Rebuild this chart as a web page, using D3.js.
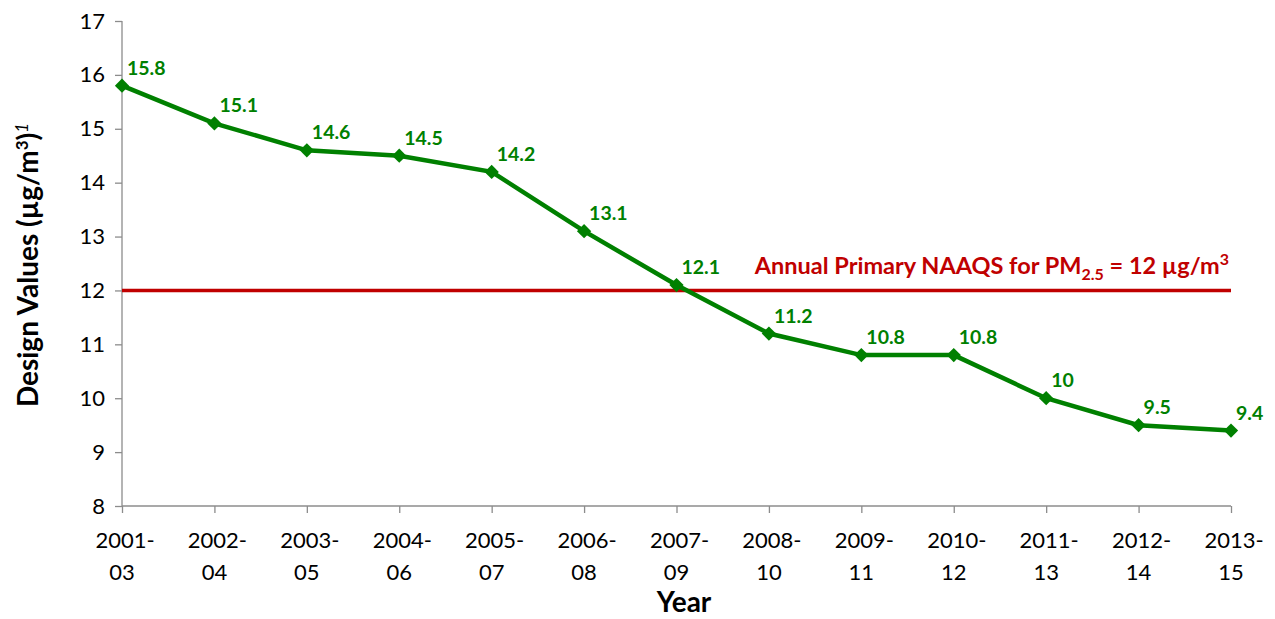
<!DOCTYPE html>
<html>
<head>
<meta charset="utf-8">
<script src="https://cdn.jsdelivr.net/npm/d3@7"></script>
<style>
    body { margin: 0; background: #fff; }
    text { font-family: Lato, "Open Sans", sans-serif; }
</style>
</head>
<body>
<script>
// categories (3-year periods) and design values
var periods = ["2001-03", "2002-04", "2003-05", "2004-06", "2005-07", "2006-08", "2007-09",
    "2008-10", "2009-11", "2010-12", "2011-13", "2012-14", "2013-15"];
var designValues = [15.8, 15.1, 14.6, 14.5, 14.2, 13.1, 12.1, 11.2, 10.8, 10.8, 10, 9.5, 9.4];
var yTicks = [8, 9, 10, 11, 12, 13, 14, 15, 16, 17];
var standard = 12;

var w = 1275, h = 619;
var margin = {left: 122, right: 44, top: 21, bottom: 113};

var svg = d3.select("body").append("svg")
    .attr("width", w)
    .attr("height", h);

var x = d3.scalePoint()
    .domain(periods)
    .range([margin.left, w - margin.right]);

var y = d3.scaleLinear()
    .domain([8, 17])
    .range([h - margin.bottom, margin.top]);

//y axis
var yAxis = svg.append("g")
    .attr("transform", "translate(" + margin.left + ",0)")
    .call(d3.axisLeft(y).tickValues(yTicks).tickSize(7).tickPadding(10));
yAxis.selectAll("text").style("font-size", "22px").attr("fill", "#000");

//x axis
var xAxis = svg.append("g")
    .attr("transform", "translate(0," + (h - margin.bottom) + ")")
    .call(d3.axisBottom(x).tickSize(7).tickFormat(""));

xAxis.selectAll("path, line").attr("stroke", "#8c8c8c").attr("stroke-width", 1.3);
yAxis.selectAll("path, line").attr("stroke", "#8c8c8c").attr("stroke-width", 1.3);
xAxis.select(".domain").attr("d", "M" + margin.left + ",0H" + (w - margin.right));
yAxis.select(".domain").attr("d", "M0," + y(17) + "V" + y(8));

//two-line period labels
var xl = svg.append("g").selectAll("text")
    .data(periods)
    .enter()
    .append("text")
    .attr("text-anchor", "middle")
    .style("font-size", "22px")
    .attr("y", h - margin.bottom + 42);
xl.append("tspan")
    .attr("x", function(d){ return x(d) + 3; })
    .text(function(d){ return d.split("-")[0] + "-"; });
xl.append("tspan")
    .attr("x", function(d){ return x(d); })
    .attr("dy", 32)
    .text(function(d){ return d.split("-")[1]; });

//axis titles
svg.append("text")
    .attr("x", 684)
    .attr("y", 612)
    .attr("text-anchor", "middle")
    .style("font-size", "28px")
    .style("font-weight", "bold")
    .text("Year");

var yt = svg.append("text")
    .attr("transform", "translate(38,265) rotate(-90)")
    .attr("text-anchor", "middle")
    .style("font-size", "28px")
    .style("font-weight", "bold");
yt.append("tspan").text("Design Values (µg/m");
yt.append("tspan").attr("dy", -10).style("font-size", "17px").text("3");
yt.append("tspan").attr("dy", 10).text(")");
yt.append("tspan").attr("dy", -10).style("font-size", "17px")
    .style("font-style", "italic").style("font-weight", "normal").text("1");

//standard line
svg.append("line")
    .attr("x1", x(periods[0]))
    .attr("x2", x(periods[periods.length - 1]))
    .attr("y1", y(standard))
    .attr("y2", y(standard))
    .attr("stroke", "#c00000")
    .attr("stroke-width", 3.5);

var ann = svg.append("text")
    .attr("x", 1229)
    .attr("y", 274)
    .attr("text-anchor", "end")
    .attr("fill", "#c00000")
    .style("font-size", "23.5px")
    .style("font-weight", "bold");
ann.append("tspan").text("Annual Primary NAAQS for PM");
ann.append("tspan").attr("dy", 6).style("font-size", "16px").text("2.5");
ann.append("tspan").attr("dy", -6).text(" = 12 µg/m");
ann.append("tspan").attr("dy", -9).style("font-size", "16px").text("3");

//data line
var line = d3.line()
    .x(function(d, i){ return x(periods[i]); })
    .y(function(d){ return y(d); });

svg.append("path")
    .datum(designValues)
    .attr("d", line)
    .attr("fill", "none")
    .attr("stroke", "#008000")
    .attr("stroke-width", 4.5);

svg.selectAll(".marker")
    .data(designValues)
    .enter()
    .append("path")
    .attr("class", "marker")
    .attr("d", d3.symbol().type(d3.symbolDiamond2).size(130))
    .attr("transform", function(d, i){
        return "translate(" + x(periods[i]) + "," + y(d) + ")";
    })
    .attr("fill", "#008000");

svg.selectAll(".labels")
    .data(designValues)
    .enter()
    .append("text")
    .attr("class", "labels")
    .attr("x", function(d, i){ return x(periods[i]) + 5; })
    .attr("y", function(d){ return y(d) - 11; })
    .attr("fill", "#008000")
    .style("font-size", "19.5px")
    .style("font-weight", "bold")
    .text(function(d){ return d; });
</script>
</body>
</html>
